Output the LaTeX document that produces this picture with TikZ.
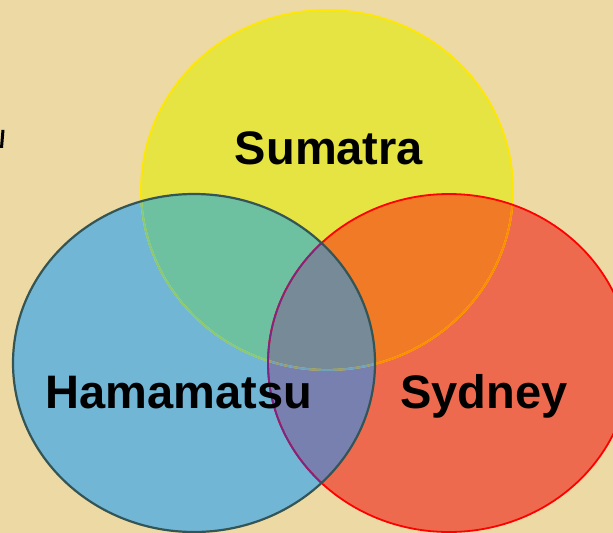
\documentclass[tikz,border=0pt]{standalone}
\usepackage{fontspec}
\setmainfont{Liberation Sans}
\usepackage{xcolor}
\usepackage{tikz}
\definecolor{paper}{HTML}{EDD9A3}
\definecolor{yel}{HTML}{E6E442}
\definecolor{blu}{HTML}{72B6D6}
\definecolor{rd}{HTML}{EE6A4E}
\definecolor{grn}{HTML}{6DC0A0}
\definecolor{orn}{HTML}{F07A25}
\definecolor{pur}{HTML}{7880B0}
\definecolor{mid}{HTML}{778A98}
\newcommand{\yelset}{(327,190) ellipse [x radius=186, y radius=180]}
\newcommand{\bluset}{(194,363) ellipse [x radius=181, y radius=169]}
\newcommand{\redset}{(449,363) ellipse [x radius=181, y radius=169]}

\begin{document}
\begin{tikzpicture}[
  x=0.5pt, y=-0.5pt,
  lbl/.style={font=\bfseries\fontsize{23.5}{28}\selectfont, anchor=base, inner sep=0pt},
  rim/.style={line width=0.9pt}]

\useasboundingbox (0,0) rectangle (613,533);
\fill[paper] (0,0) rectangle (613,533);
\clip (0,0) rectangle (613,533);

% cut-off stroke at the left edge
\fill[black] (0,148) -- (1.5,130) -- (4.5,130) -- (3,148) -- cycle;

% sets
\fill[yel] \yelset;
\fill[rd] \redset;
\fill[blu] \bluset;

% overlaps
\begin{scope}
  \clip \yelset;
  \fill[grn] \bluset;
  \fill[orn] \redset;
\end{scope}
\begin{scope}
  \clip \redset;
  \clip \bluset;
  \fill[pur] (0,0) rectangle (613,533);
  \clip \yelset;
  \fill[mid] (0,0) rectangle (613,533);
\end{scope}

% rims
\draw[rim, yellow!90!orange] \yelset;
\begin{scope}
  \clip \bluset;
  \draw[rim, green!40!gray!70!white] \yelset;
\end{scope}
\begin{scope}
  \clip \redset;
  \draw[rim, orange!90!yellow] \yelset;
  \clip \bluset;
  \draw[rim, gray!60!cyan] \yelset;
\end{scope}
\draw[rim, red] \redset;
\begin{scope}
  \clip \bluset;
  \draw[rim, violet!70!gray] \redset;
\end{scope}
\draw[rim, line width=1.1pt, black!55!teal!60!gray] \bluset;

% labels
\node[lbl] (sum) at (329,165) {Sumatra};
\node[lbl] (ham) at (179,408) {Hamamatsu};
\node[lbl] (syd) at (484,408) {Sydney};
\end{tikzpicture}
\end{document}
